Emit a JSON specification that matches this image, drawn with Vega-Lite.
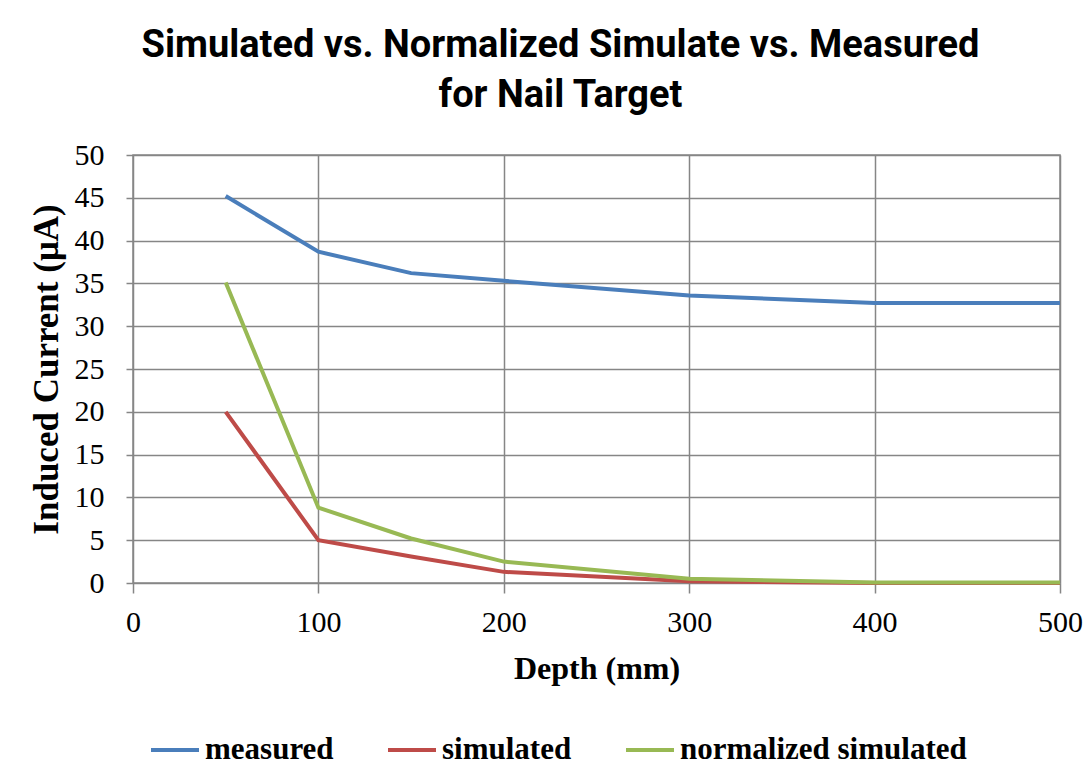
{
  "$schema": "https://vega.github.io/schema/vega-lite/v6.json",
  "width": 927,
  "height": 428,
  "autosize": {"type": "none"},
  "padding": {"left": 133, "top": 155, "right": 32, "bottom": 186},
  "background": "white",
  "title": {
    "text": ["Simulated vs. Normalized Simulate vs. Measured", "for Nail Target"],
    "font": "Roboto",
    "fontSize": 38,
    "fontWeight": "bold",
    "color": "black",
    "lineHeight": 50,
    "anchor": "middle",
    "frame": "group",
    "dx": -36,
    "offset": 25
  },
  "data": {
    "values": [
      {"depth": 50, "current": 45.2, "series": "measured"},
      {"depth": 100, "current": 38.7, "series": "measured"},
      {"depth": 150, "current": 36.2, "series": "measured"},
      {"depth": 200, "current": 35.3, "series": "measured"},
      {"depth": 300, "current": 33.6, "series": "measured"},
      {"depth": 400, "current": 32.7, "series": "measured"},
      {"depth": 500, "current": 32.7, "series": "measured"},
      {"depth": 50, "current": 20.0, "series": "simulated"},
      {"depth": 100, "current": 5.0, "series": "simulated"},
      {"depth": 150, "current": 3.1, "series": "simulated"},
      {"depth": 200, "current": 1.3, "series": "simulated"},
      {"depth": 300, "current": 0.2, "series": "simulated"},
      {"depth": 400, "current": 0.0, "series": "simulated"},
      {"depth": 500, "current": 0.0, "series": "simulated"},
      {"depth": 50, "current": 35.1, "series": "normalized simulated"},
      {"depth": 100, "current": 8.8, "series": "normalized simulated"},
      {"depth": 150, "current": 5.2, "series": "normalized simulated"},
      {"depth": 200, "current": 2.5, "series": "normalized simulated"},
      {"depth": 300, "current": 0.5, "series": "normalized simulated"},
      {"depth": 400, "current": 0.05, "series": "normalized simulated"},
      {"depth": 500, "current": 0.05, "series": "normalized simulated"}
    ]
  },
  "mark": {"type": "line", "strokeWidth": 4},
  "encoding": {
    "x": {
      "field": "depth",
      "type": "quantitative",
      "scale": {"domain": [0, 500], "nice": false},
      "axis": {
        "title": "Depth (mm)",
        "values": [0, 100, 200, 300, 400, 500],
        "tickSize": 10,
        "labelPadding": 14,
        "labelFlush": false,
        "titlePadding": 16
      }
    },
    "y": {
      "field": "current",
      "type": "quantitative",
      "scale": {"domain": [0, 50], "nice": false},
      "axis": {
        "title": "Induced Current (μA)",
        "titleFontSize": 35,
        "values": [0, 5, 10, 15, 20, 25, 30, 35, 40, 45, 50],
        "tickSize": 7,
        "labelPadding": 22,
        "labelFlush": false,
        "titlePadding": 10
      }
    },
    "color": {
      "field": "series",
      "type": "nominal",
      "sort": null,
      "scale": {
        "domain": ["measured", "simulated", "normalized simulated"],
        "range": ["#4A7EBB", "#BE4B48", "#98B954"]
      },
      "legend": {
        "title": null,
        "orient": "none",
        "direction": "horizontal",
        "legendX": 16,
        "legendY": 569,
        "symbolType": "stroke",
        "symbolSize": 2304,
        "symbolStrokeWidth": 4,
        "labelFont": "Liberation Serif",
        "labelFontWeight": "bold",
        "labelFontSize": 31,
        "labelColor": "black",
        "labelOffset": 4,
        "columnPadding": 46,
        "padding": 0,
        "labelLimit": 500
      }
    }
  },
  "config": {
    "view": {"stroke": "#868686", "strokeWidth": 1.5},
    "axis": {
      "grid": true,
      "gridColor": "#868686",
      "gridWidth": 1.5,
      "gridOpacity": 1,
      "domain": false,
      "tickColor": "#868686",
      "tickWidth": 1.5,
      "labelFont": "Liberation Serif",
      "labelFontSize": 30,
      "labelColor": "black",
      "titleFont": "Liberation Serif",
      "titleFontSize": 32,
      "titleFontWeight": "bold",
      "titleColor": "black"
    }
  }
}
